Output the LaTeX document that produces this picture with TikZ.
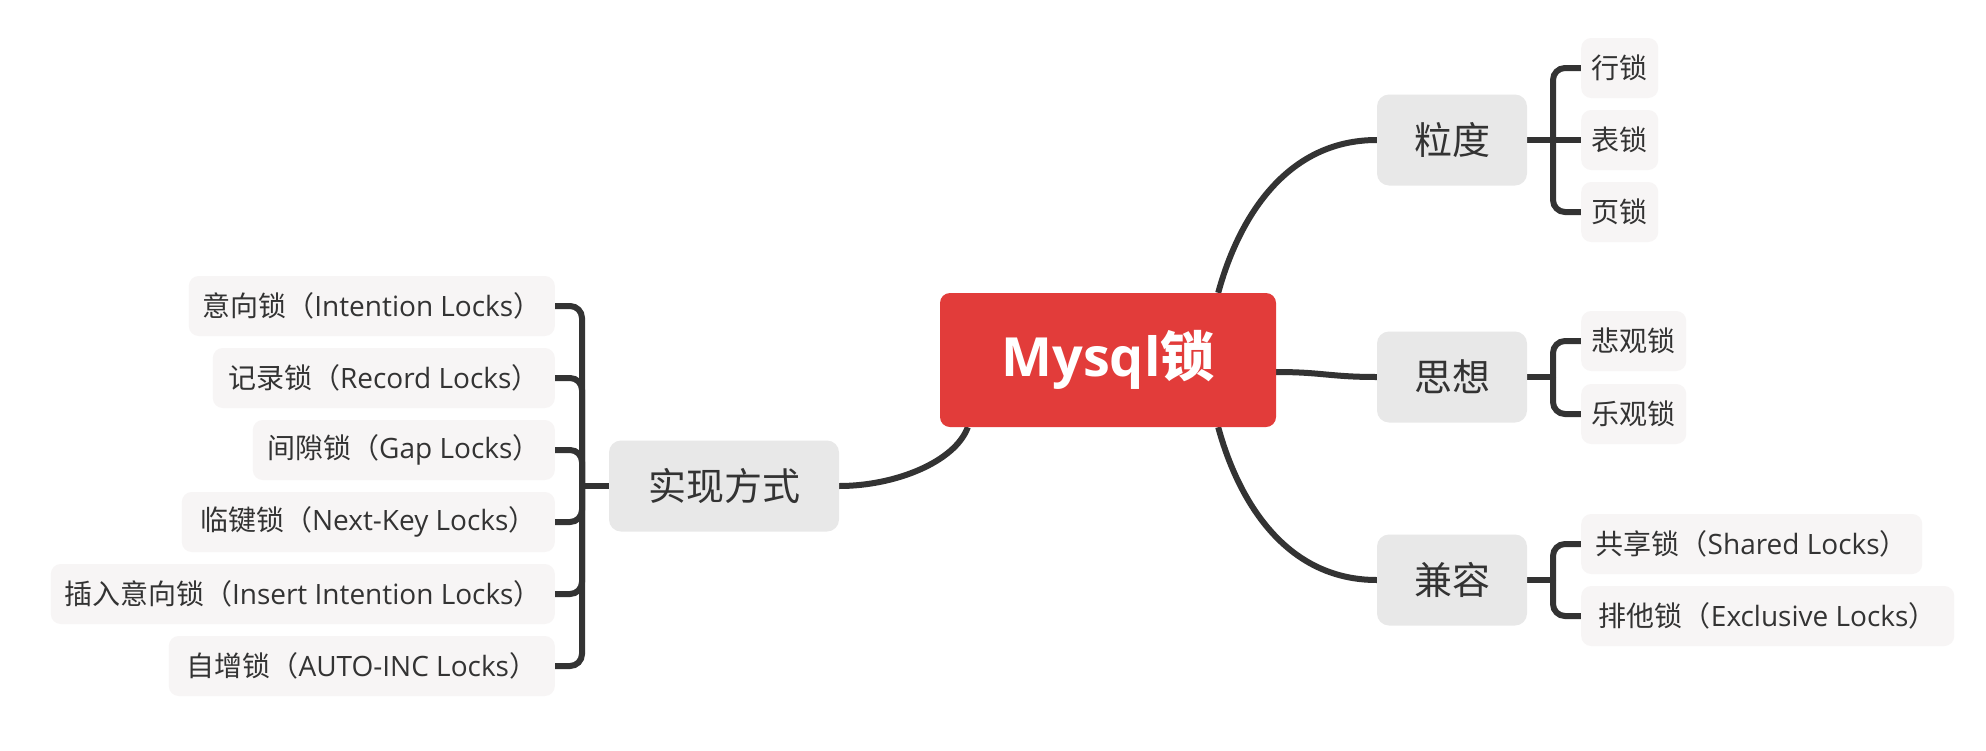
\documentclass[tikz,border=0pt]{standalone}
\usepackage{fontspec}
\setmainfont{Open Sans}
\newfontfamily\cjkf{Noto Sans CJK SC}
\newcommand\zhs[1]{{\cjkf #1}}
\usetikzlibrary{calc,backgrounds}
\definecolor{rootred}{RGB}{226,60,58}
\definecolor{midgray}{RGB}{232,232,232}
\definecolor{leafgray}{RGB}{247,245,245}
\definecolor{inkc}{RGB}{51,51,51}
\definecolor{linec}{RGB}{51,51,51}
\begin{document}
\begin{tikzpicture}[x=1pt,y=-1pt,
  rootbox/.style={fill=rootred, rounded corners=10pt, text=white,
    font=\fontsize{54}{60}\selectfont\bfseries, minimum width=336pt,
    minimum height=134pt, inner sep=0pt},
  midbox/.style={fill=midgray, rounded corners=12pt, text=inkc,
    font=\fontsize{38}{44}\selectfont\cjkf, minimum height=91pt, inner sep=0pt},
  leafbox/.style={fill=leafgray, rounded corners=10pt, text=inkc,
    font=\fontsize{28}{32}\selectfont, minimum height=60pt, inner sep=0pt},
  conn/.style={draw=linec, line width=6pt},
  brk/.style={draw=linec, line width=6pt, rounded corners=12pt}]
\useasboundingbox (0,0) rectangle (1986,750);

% root and main topics
\node[rootbox] (mysql) at (1108,360) {Mysql\zhs{锁}};
\node[midbox, minimum width=150pt] (lidu) at (1452,140) {粒度};
\node[midbox, minimum width=150pt] (sixiang) at (1452,377) {思想};
\node[midbox, minimum width=150pt] (jianrong) at (1452,580) {兼容};
\node[midbox, minimum width=230pt] (shixian) at (724,486) {实现方式};

% right leaves
\node[leafbox, anchor=west, minimum width=77pt] (hang) at (1581,68) {\zhs{行锁}};
\node[leafbox, anchor=west, minimum width=77pt] (biao) at (1581,140) {\zhs{表锁}};
\node[leafbox, anchor=west, minimum width=77pt] (ye) at (1581,212) {\zhs{页锁}};
\node[leafbox, anchor=west, minimum width=105pt] (beiguan) at (1581,341) {\zhs{悲观锁}};
\node[leafbox, anchor=west, minimum width=105pt] (leguan) at (1581,414) {\zhs{乐观锁}};
\node[leafbox, anchor=west, minimum width=341pt] (gongxiang) at (1581,544) {\zhs{共享锁（}Shared Locks\zhs{）}};
\node[leafbox, anchor=west, minimum width=373pt] (paita) at (1581,616) {\zhs{排他锁（}Exclusive Locks\zhs{）}};

% left leaves
\node[leafbox, anchor=east, minimum width=366pt] (yixiang) at (555,306) {\zhs{意向锁（}Intention Locks\zhs{）}};
\node[leafbox, anchor=east, minimum width=342pt] (jilu) at (555,378) {\zhs{记录锁（}Record Locks\zhs{）}};
\node[leafbox, anchor=east, minimum width=302pt] (jianxi) at (555,450) {\zhs{间隙锁（}Gap Locks\zhs{）}};
\node[leafbox, anchor=east, minimum width=373pt] (linjian) at (555,522) {\zhs{临键锁（}Next-Key Locks\zhs{）}};
\node[leafbox, anchor=east, minimum width=504pt] (charu) at (555,594) {\zhs{插入意向锁（}Insert Intention Locks\zhs{）}};
\node[leafbox, anchor=east, minimum width=386pt] (zizeng) at (555,666) {\zhs{自增锁（}AUTO-INC Locks\zhs{）}};

% junction points
\coordinate (jA) at (1553,140);
\coordinate (jB) at (1553,377);
\coordinate (jC) at (1553,580);
\coordinate (jD) at (582,486);

\begin{scope}[on background layer]
\fill[white] (0,0) rectangle (1986,750);
% main branches
\draw[conn] ($(mysql.north east)+(-58,0)$) .. controls (1238,220) and (1285,140) .. (lidu.west);
\draw[conn] ($(mysql.east)+(0,12)$) .. controls (1322,372) and (1330,377) .. (sixiang.west);
\draw[conn] ($(mysql.south east)+(-58,0)$) .. controls (1238,500) and (1285,580) .. (jianrong.west);
\draw[conn] ($(mysql.south west)+(28,0)$) .. controls (955,462) and (895,486) .. (shixian.east);
% brackets right
\draw[conn] (lidu.east) -- (biao.west);
\draw[brk] (jA) |- (hang.west);
\draw[brk] (jA) |- (ye.west);
\draw[conn] (sixiang.east) -- (jB);
\draw[brk] (jB) |- (beiguan.west);
\draw[brk] (jB) |- (leguan.west);
\draw[conn] (jianrong.east) -- (jC);
\draw[brk] (jC) |- (gongxiang.west);
\draw[brk] (jC) |- (paita.west);
% bracket left
\draw[conn] (shixian.west) -- (jD);
\draw[brk] (jD) |- (yixiang.east);
\draw[brk] (jD) |- (jilu.east);
\draw[brk] (jD) |- (jianxi.east);
\draw[brk] (jD) |- (linjian.east);
\draw[brk] (jD) |- (charu.east);
\draw[brk] (jD) |- (zizeng.east);
\end{scope}
\end{tikzpicture}
\end{document}
